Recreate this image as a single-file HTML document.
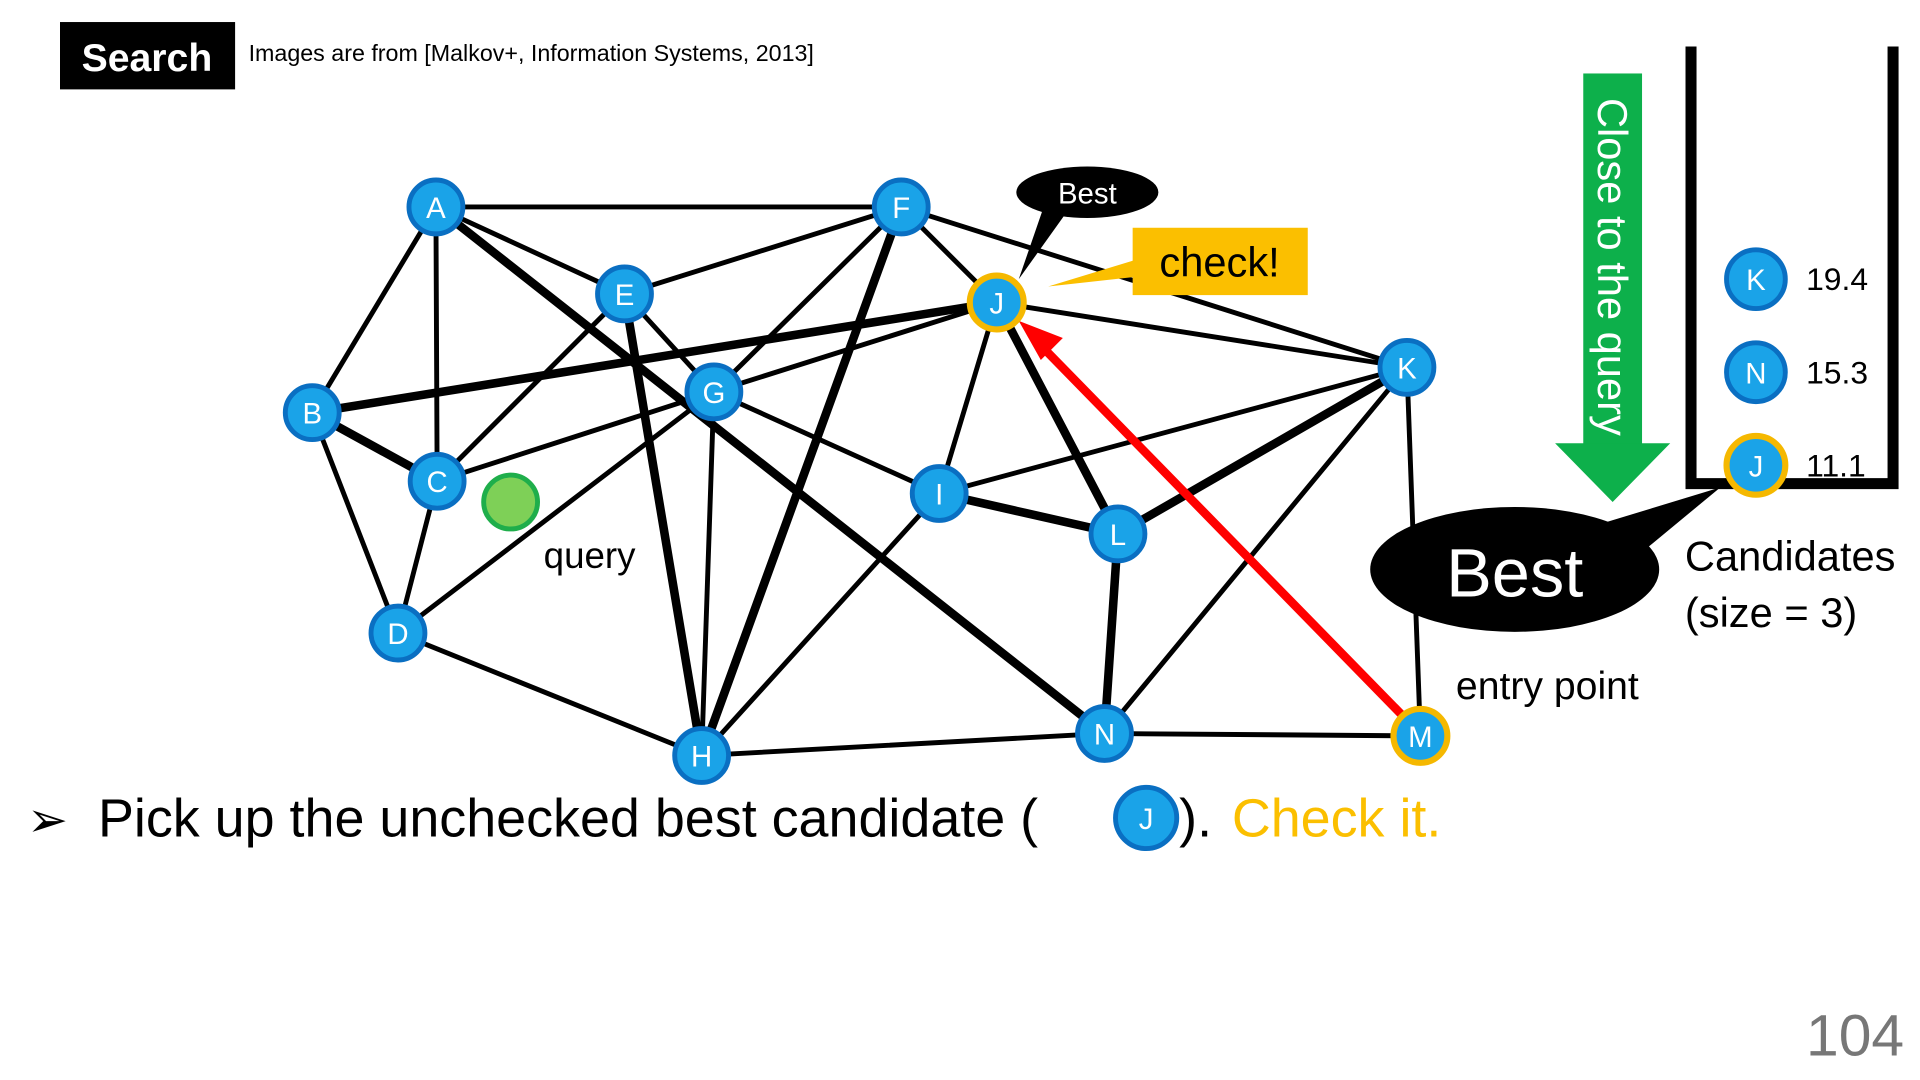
<!DOCTYPE html>
<html><head><meta charset="utf-8"><style>
html,body{margin:0;padding:0;background:#fff;}
svg{display:block;font-family:"Liberation Sans","DejaVu Sans",sans-serif;}
</style></head><body>
<svg width="1920" height="1080" viewBox="0 0 1568 882" xmlns="http://www.w3.org/2000/svg">
<rect x="0" y="0" width="1568" height="882" fill="#fff"/>
<rect x="49" y="18" width="143" height="55" fill="#000"/>
<text x="120" y="58" font-size="32" font-weight="bold" fill="#fff" text-anchor="middle">Search</text>
<text x="203" y="50" font-size="19" fill="#000">Images are from [Malkov+, Information Systems, 2013]</text>
<g stroke="#000" stroke-width="4" fill="none" stroke-linecap="round">
<line x1="356" y1="169" x2="736" y2="169"/>
<line x1="356" y1="169" x2="255" y2="337"/>
<line x1="356" y1="169" x2="357" y2="393"/>
<line x1="356" y1="169" x2="510" y2="240"/>
<line x1="356" y1="169" x2="902" y2="599" stroke-width="7"/>
<line x1="736" y1="169" x2="510" y2="240"/>
<line x1="736" y1="169" x2="583" y2="320"/>
<line x1="736" y1="169" x2="573" y2="617" stroke-width="7"/>
<line x1="736" y1="169" x2="814" y2="247"/>
<line x1="736" y1="169" x2="1149" y2="300"/>
<line x1="510" y1="240" x2="357" y2="393"/>
<line x1="510" y1="240" x2="573" y2="617" stroke-width="7"/>
<line x1="510" y1="240" x2="583" y2="320"/>
<line x1="814" y1="247" x2="255" y2="337" stroke-width="7"/>
<line x1="357" y1="393" x2="583" y2="320"/>
<line x1="583" y1="320" x2="814" y2="247"/>
<line x1="325" y1="517" x2="583" y2="320"/>
<line x1="814" y1="247" x2="1149" y2="300"/>
<line x1="814" y1="247" x2="767" y2="403"/>
<line x1="814" y1="247" x2="913" y2="436" stroke-width="7"/>
<line x1="583" y1="320" x2="767" y2="403"/>
<line x1="583" y1="320" x2="573" y2="617"/>
<line x1="255" y1="337" x2="357" y2="393" stroke-width="7"/>
<line x1="255" y1="337" x2="325" y2="517"/>
<line x1="357" y1="393" x2="325" y2="517"/>
<line x1="767" y1="403" x2="913" y2="436" stroke-width="7"/>
<line x1="767" y1="403" x2="1149" y2="300"/>
<line x1="767" y1="403" x2="573" y2="617"/>
<line x1="913" y1="436" x2="1149" y2="300" stroke-width="7"/>
<line x1="913" y1="436" x2="902" y2="599" stroke-width="7"/>
<line x1="1149" y1="300" x2="902" y2="599"/>
<line x1="1149" y1="300" x2="1160" y2="601"/>
<line x1="325" y1="517" x2="573" y2="617"/>
<line x1="573" y1="617" x2="902" y2="599"/>
<line x1="902" y1="599" x2="1160" y2="601"/>
</g>
<line x1="1145" y1="584" x2="848" y2="280" stroke="#f00" stroke-width="7"/>
<polygon points="832,262 868,276 850,294" fill="#f00"/>
<g stroke="#0a6fc2" stroke-width="4" fill="#1aa3e8">
<circle cx="356" cy="169" r="22"/><circle cx="736" cy="169" r="22"/><circle cx="510" cy="240" r="22"/>
<circle cx="1149" cy="300" r="22"/><circle cx="583" cy="320" r="22"/><circle cx="255" cy="337" r="22"/>
<circle cx="357" cy="393" r="22"/><circle cx="767" cy="403" r="22"/><circle cx="913" cy="436" r="22"/>
<circle cx="325" cy="517" r="22"/><circle cx="573" cy="617" r="22"/><circle cx="902" cy="599" r="22"/>
</g>
<circle cx="814" cy="247" r="22" fill="#1aa3e8" stroke="#f5b800" stroke-width="5"/>
<circle cx="1160" cy="601" r="22" fill="#1aa3e8" stroke="#f5b800" stroke-width="5"/>
<circle cx="417" cy="410" r="22" fill="#7ed057" stroke="#1fae4b" stroke-width="4"/>
<g font-size="24" fill="#fff" text-anchor="middle">
<text x="356" y="178">A</text><text x="736" y="178">F</text><text x="510" y="249">E</text><text x="814" y="256">J</text>
<text x="1149" y="309">K</text><text x="583" y="329">G</text><text x="255" y="346">B</text><text x="357" y="402">C</text>
<text x="767" y="412">I</text><text x="913" y="445">L</text><text x="325" y="526">D</text><text x="573" y="626">H</text>
<text x="902" y="608">N</text><text x="1160" y="610">M</text>
</g>
<text x="444" y="464" font-size="30" fill="#000">query</text>
<ellipse cx="888" cy="157" rx="58" ry="21" fill="#000"/>
<polygon points="852,170 872,172 832,228" fill="#000"/>
<text x="888" y="166" font-size="24" fill="#fff" text-anchor="middle">Best</text>
<rect x="925" y="186" width="143" height="55" fill="#fbbf00"/>
<polygon points="928,212 928,226 856,234" fill="#fbbf00"/>
<text x="996" y="226" font-size="34" fill="#000" text-anchor="middle">check!</text>
<rect x="1293" y="60" width="48" height="305" fill="#0db04b"/>
<polygon points="1270,362 1364,362 1317,410" fill="#0db04b"/>
<text transform="translate(1305,80) rotate(90)" font-size="34" fill="#fff">Close to the query</text>
<path d="M1381 38 V395 H1546 V38" stroke="#000" stroke-width="9" fill="none"/>
<circle cx="1434" cy="228" r="24" fill="#1aa3e8" stroke="#0a6fc2" stroke-width="4"/>
<circle cx="1434" cy="304" r="24" fill="#1aa3e8" stroke="#0a6fc2" stroke-width="4"/>
<circle cx="1434" cy="380" r="24" fill="#1aa3e8" stroke="#f5b800" stroke-width="5"/>
<g font-size="24" fill="#fff" text-anchor="middle"><text x="1434" y="237">K</text><text x="1434" y="313">N</text><text x="1434" y="389">J</text></g>
<g font-size="26" fill="#000"><text x="1475" y="237">19.4</text><text x="1475" y="313">15.3</text><text x="1475" y="389">11.1</text></g>
<ellipse cx="1237" cy="465" rx="118" ry="51" fill="#000"/>
<polygon points="1300,430 1405,398 1330,460" fill="#000"/>
<text x="1237" y="487" font-size="56" fill="#fff" text-anchor="middle">Best</text>
<text x="1376" y="466" font-size="34" fill="#000">Candidates</text>
<text x="1376" y="512" font-size="34" fill="#000">(size = 3)</text>
<text x="1189" y="571" font-size="32" fill="#000">entry point</text>
<text x="22" y="683" font-size="40" fill="#000">➢</text>
<text x="80" y="683" font-size="44" fill="#000">Pick up the unchecked best candidate (</text>
<circle cx="936" cy="668" r="25" fill="#1aa3e8" stroke="#0a6fc2" stroke-width="4"/>
<text x="936" y="677" font-size="24" fill="#fff" text-anchor="middle">J</text>
<text x="963" y="683" font-size="44" fill="#000">).</text>
<text x="1006" y="683" font-size="44" fill="#fbbf00">Check it.</text>
<text x="1555" y="862" font-size="48" fill="#777" text-anchor="end">104</text>
</svg>
</body></html>
